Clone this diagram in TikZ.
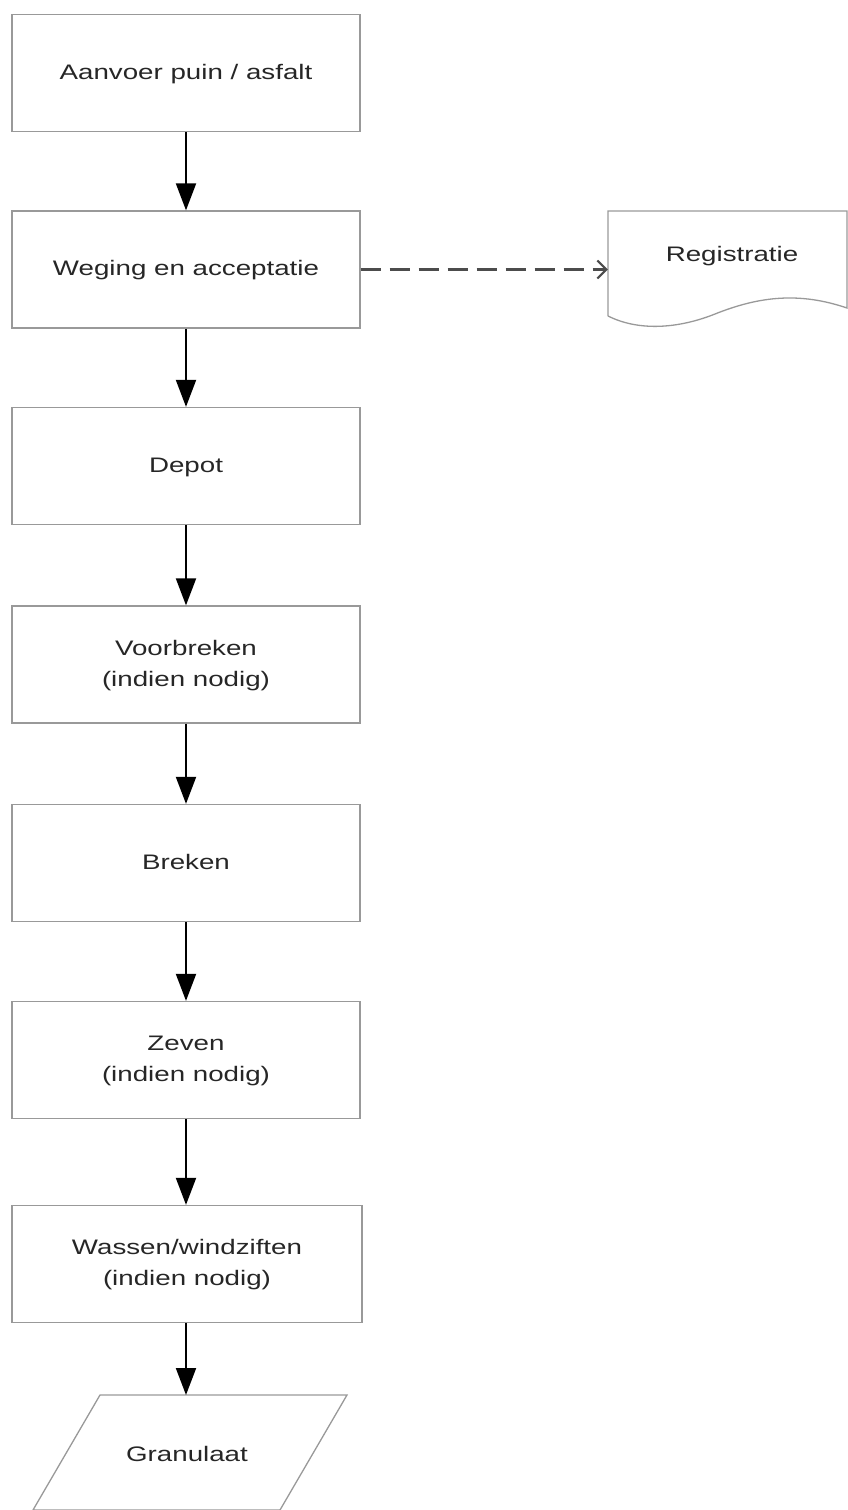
\documentclass[tikz,border=0pt]{standalone}
\usepackage{fontspec}
\setmainfont{Liberation Sans}
\usetikzlibrary{arrows.meta}
\newcommand\wtxt[1]{\scalebox{1.32}[1]{\begin{tabular}{@{}c@{}}#1\end{tabular}}}
\begin{document}
\begin{tikzpicture}[x=1pt,y=-1pt,
  box/.style={draw=black!40,line width=1.3pt,minimum width=348pt,minimum height=117pt,inner sep=0pt,
    text=black!85,font=\fontsize{21}{31}\selectfont},
  flow/.style={line width=2pt,-{Triangle[length=27pt,width=20pt]}},
  shapeline/.style={draw=black!40,line width=1.3pt},
  lbl/.style={text=black!85,font=\fontsize{21}{31}\selectfont,inner sep=0pt}]
\useasboundingbox (0,0) rectangle (847,1510);
\node[box] (b1) at (186,73) {\wtxt{Aanvoer puin / asfalt}};
\node[box] (b2) at (186,269.5) {\wtxt{Weging en acceptatie}};
\node[box] (b3) at (186,466) {\wtxt{Depot}};
\node[box] (b4) at (186,664.5) {\raisebox{-4pt}{\wtxt{Voorbreken\\(indien nodig)}}};
\node[box] (b5) at (186,863) {\wtxt{Breken}};
\node[box] (b6) at (186,1060) {\raisebox{-3pt}{\wtxt{Zeven\\(indien nodig)}}};
\node[box,minimum width=350pt] (b7) at (187,1264) {\raisebox{-2pt}{\wtxt{Wassen/windziften\\(indien nodig)}}};
% Registratie document shape
\path[shapeline] (608,316) -- (608,211) -- (847,211) -- (847,308)
  .. controls (800,292) and (760,296) .. (715,314)
  .. controls (680,328) and (640,332) .. (608,316);
\node[inner sep=0pt,minimum width=239pt,minimum height=105pt] (reg) at (727.5,263.5) {};
\node[lbl] (regt) at (732,255) {\wtxt{Registratie}};
% Granulaat parallelogram
\path[shapeline] (100,1395) -- (347,1395) -- (280,1510) -- (33,1510) -- cycle;
\coordinate (granTop) at (186,1395);
\node[lbl] (gran) at (187,1455) {\wtxt{Granulaat}};
% connectors
\draw[flow] (b1.south) -- (b2.north);
\draw[flow] (b2.south) -- (b3.north);
\draw[flow] (b3.south) -- (b4.north);
\draw[flow] (b4.south) -- (b5.north);
\draw[flow] (b5.south) -- (b6.north);
\draw[flow] (b6.south) -- (b7.north -| b6.south);
\draw[flow] (b7.south -| b6.south) -- (granTop);
\draw[draw=black!70,line width=2.5pt,dash pattern=on 20pt off 9pt,
  -{Straight Barb[length=9pt,width=18pt,line width=2pt]}] (b2.east) -- (reg.west |- b2.east);
\end{tikzpicture}
\end{document}
